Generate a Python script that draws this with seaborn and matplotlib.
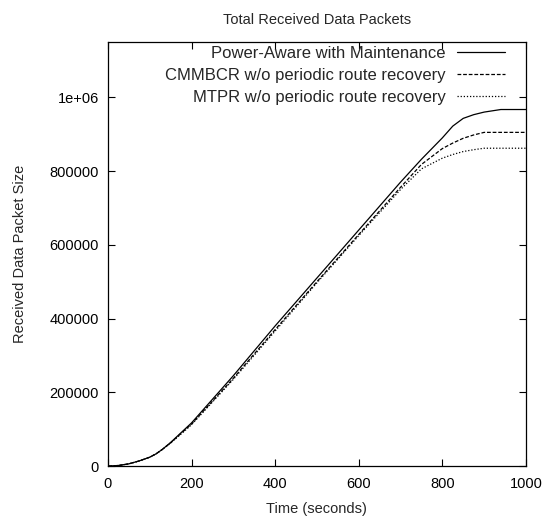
import pandas as pd
import seaborn as sns
import matplotlib.pyplot as plt

# time points (seconds)
time = [0, 25, 50, 75, 100, 115, 130, 150, 200, 300, 400, 500, 600, 700, 750,
        800, 825, 850, 875, 900, 940, 1000]

# received data packet size for each protocol
power_aware = [0, 1500, 6000, 14000, 24000, 33000, 45000, 64000, 117000, 245000,
               380000, 510000, 640000, 770000, 832000, 890000, 922000, 943000,
               953000, 960000, 967000, 967000]
cmmbcr = [0, 1500, 6000, 14000, 24000, 33000, 45000, 63000, 114000, 238000,
          370000, 500000, 628000, 756000, 818000, 861000, 876000, 889000,
          898000, 905000, 905000, 905000]
mtpr = [0, 1500, 6000, 14000, 24000, 33000, 45000, 62000, 112000, 235000,
        366000, 497000, 625000, 750000, 806000, 835000, 845000, 853000,
        858000, 862000, 862000, 862000]

labels = ["Power-Aware with Maintenance",
          "CMMBCR w/o periodic route recovery",
          "MTPR w/o periodic route recovery"]

df = pd.DataFrame({
    "Time": time * 3,
    "Size": power_aware + cmmbcr + mtpr,
    "Protocol": [labels[0]] * len(time) + [labels[1]] * len(time) + [labels[2]] * len(time),
})

sns.set_style("ticks")
plt.rcParams['font.family'] = ['Liberation Sans', 'DejaVu Sans']

fig = plt.figure(figsize=(5.45, 5.19), dpi=100)
ax = fig.add_axes([0.198, 0.102, 0.767, 0.817])

sns.lineplot(data=df, x="Time", y="Size", hue="Protocol", style="Protocol",
             palette=["black"] * 3,
             dashes={labels[0]: "", labels[1]: (3, 1.5), labels[2]: (1, 1.5)},
             linewidth=0.9, ax=ax)

ax.set_xlim(0, 1000)
ax.set_ylim(0, 1150000)
ax.set_xticks([0, 200, 400, 600, 800, 1000])
ax.set_yticks([0, 200000, 400000, 600000, 800000, 1000000])
ax.set_yticklabels(["0", "200000", "400000", "600000", "800000", "1e+06"])
ax.tick_params(direction="in", top=True, right=True, length=5, width=0.8,
               labelsize=10.5, colors="black")
ax.tick_params(axis="x", pad=8)
ax.tick_params(axis="y", pad=6.5)
for s in ax.spines.values():
    s.set_linewidth(0.9)
    s.set_color("black")

ax.set_xlabel("Time (seconds)", fontsize=10.5, labelpad=8)
ax.set_ylabel("Received Data Packet Size", fontsize=10.5, labelpad=16.5)
fig.suptitle("Total Received Data Packets", x=0.582, y=0.975, fontsize=10.5)

leg = ax.legend(loc="upper right", bbox_to_anchor=(0.95, 0.99), frameon=False,
                markerfirst=False, fontsize=12, handlelength=2.9,
                labelspacing=0.42, borderaxespad=0, handletextpad=0.65,
                borderpad=0)
for t in leg.get_texts():
    t.set_ha("right")
leg._legend_box.align = "right"

plt.savefig("out.png", dpi=100)
